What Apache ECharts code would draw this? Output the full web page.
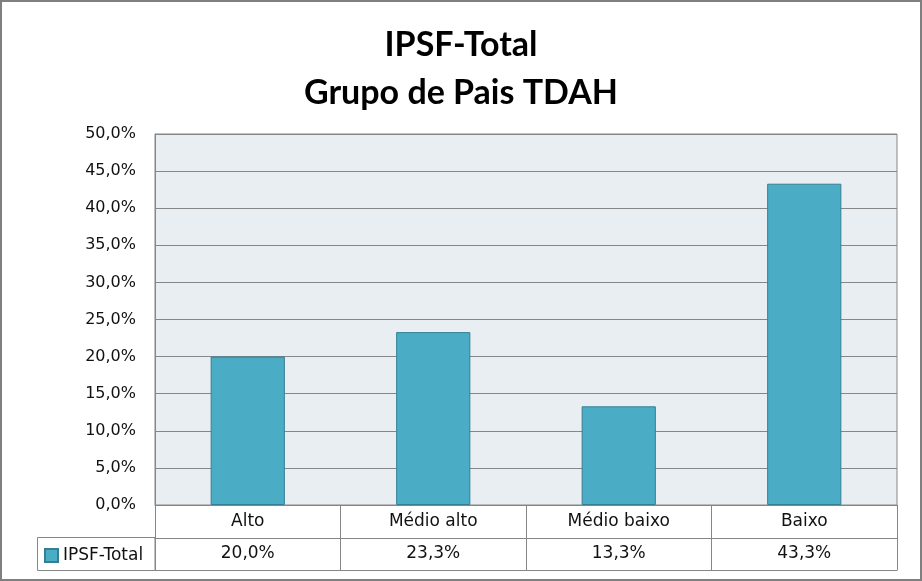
<!DOCTYPE html>
<html>
<head>
<meta charset="utf-8">
<script src="https://cdn.jsdelivr.net/npm/echarts@6/dist/echarts.min.js"></script>
<style>
html,body{margin:0;padding:0;background:#fff;}
#c{width:922px;height:581px;}
</style>
</head>
<body>
<div id="c"></div>
<script>
const titleText = 'IPSF-Total\nGrupo de Pais TDAH';
const seriesName = 'IPSF-Total';
const categories = ['Alto', 'Médio alto', 'Médio baixo', 'Baixo'];
const values = [20.0, 23.3, 13.3, 43.3];
const yMin = 0, yMax = 50, yInterval = 5;

const fmt = v => v.toFixed(1).replace('.', ',') + '%';
const valueLabels = values.map(fmt);

const lineColor = '#868686';
const labelFont = { fontFamily: 'DejaVu Sans', fontSize: 16, color: '#111' };
const tableFont = { fontFamily: 'DejaVu Sans', fontSize: 17, color: '#111' };

const chart = echarts.init(document.getElementById('c'), null, { renderer: 'canvas' });
chart.setOption({
  backgroundColor: '#fff',
  animation: false,
  title: {
    text: titleText,
    left: 'center',
    top: 21,
    padding: 0,
    textStyle: { fontFamily: 'Lato', fontWeight: 'bold', fontSize: 34, lineHeight: 48, color: '#000' }
  },
  legend: {
    data: [seriesName],
    left: 44,
    top: 547,
    padding: 0,
    icon: 'rect',
    itemWidth: 13,
    itemHeight: 13,
    textStyle: tableFont
  },
  grid: {
    left: 155, right: 25, top: 134, bottom: 76,
    show: true, backgroundColor: '#E9EEF2', borderColor: lineColor, borderWidth: 1
  },
  xAxis: [
    {
      type: 'category', data: categories, position: 'bottom',
      axisLine: { show: true, lineStyle: { color: lineColor } },
      axisTick: { show: true, interval: 0, length: 33, lineStyle: { color: lineColor } },
      axisLabel: Object.assign({ margin: 8, interval: 0 }, tableFont)
    },
    {
      type: 'category', data: valueLabels, position: 'bottom', offset: 33,
      axisLine: { show: true, lineStyle: { color: lineColor } },
      axisTick: { show: true, interval: 0, length: 32, lineStyle: { color: lineColor } },
      axisLabel: Object.assign({ margin: 7, interval: 0 }, tableFont)
    },
    {
      type: 'category', data: categories, position: 'bottom', offset: 65,
      axisLine: { show: true, lineStyle: { color: lineColor } },
      axisTick: { show: false },
      axisLabel: { show: false }
    }
  ],
  yAxis: {
    type: 'value', min: yMin, max: yMax, interval: yInterval,
    axisLine: { show: true, lineStyle: { color: lineColor } },
    axisTick: { show: false },
    splitLine: { show: true, lineStyle: { color: lineColor } },
    axisLabel: Object.assign({ margin: 19, formatter: v => fmt(v) }, labelFont)
  },
  series: [{
    name: seriesName,
    type: 'bar',
    xAxisIndex: 0,
    data: values,
    barWidth: '40%',
    itemStyle: { color: '#4BACC6', borderColor: '#357F94', borderWidth: 1 }
  }],
  graphic: [
    {
      type: 'rect', silent: true,
      shape: { x: 37.5, y: 537.5, width: 117.5, height: 33 },
      style: { fill: 'none', stroke: lineColor, lineWidth: 1 }
    },
    {
      type: 'rect', silent: true, z: 100,
      shape: { x: 1, y: 1, width: 920, height: 579 },
      style: { fill: 'none', stroke: '#7f7f7f', lineWidth: 2 }
    }
  ]
});
</script>
</body>
</html>
